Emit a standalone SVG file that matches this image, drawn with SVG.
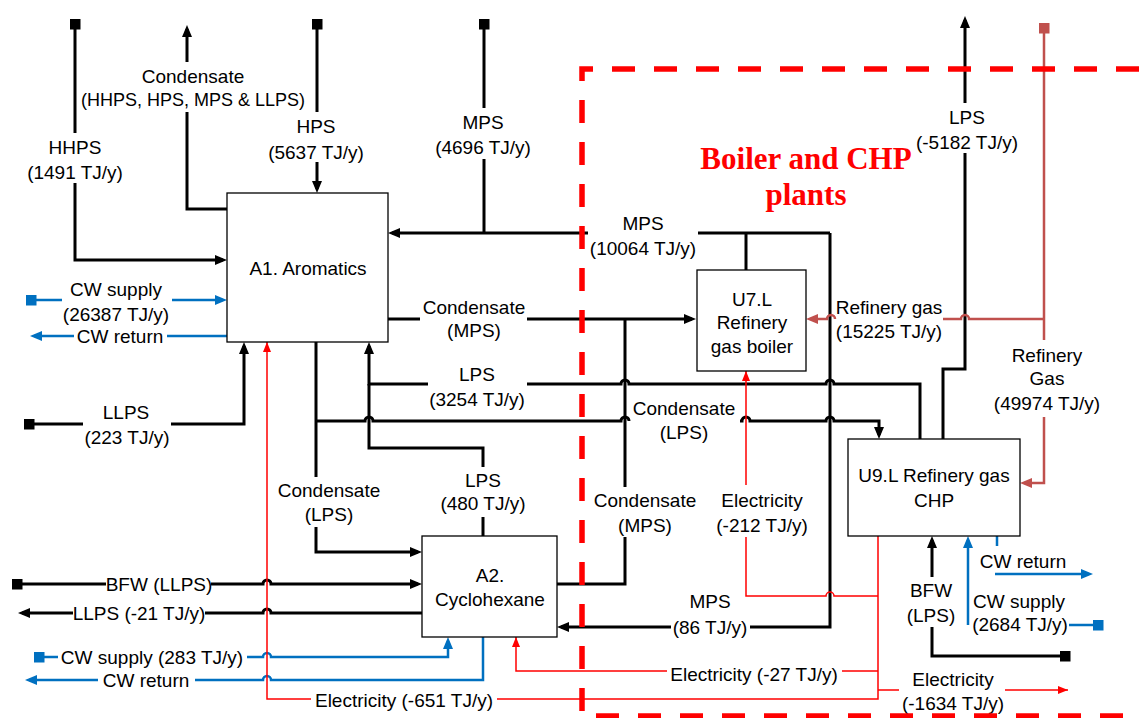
<svg xmlns="http://www.w3.org/2000/svg" width="1139" height="718" viewBox="0 0 1139 718">
<style>
.k{fill:none;stroke:#000;stroke-width:3}
.b{fill:none;stroke:#0070C0;stroke-width:2.5}
.r{fill:none;stroke:#FF0000;stroke-width:1.5}
.g{fill:none;stroke:#C0504D;stroke-width:2.5}
.node rect{fill:#fff;stroke:#000;stroke-width:1.3}
text{font-family:"Liberation Sans",Arial,sans-serif;font-size:19px;fill:#000;text-anchor:middle}
.title{font-family:"Liberation Serif","Times New Roman",serif;font-size:31px;font-weight:bold;fill:#FF0000}
.bound{fill:none;stroke:#FF0000;stroke-width:5.5;stroke-dasharray:23 19}
</style>
<defs>
<marker id="ak" markerUnits="userSpaceOnUse" markerWidth="12" markerHeight="10" refX="8" refY="5" orient="auto"><path d="M0,0 L12,5 L0,10 z" fill="#000"/></marker>
<marker id="ab" markerUnits="userSpaceOnUse" markerWidth="12" markerHeight="10" refX="8" refY="5" orient="auto"><path d="M0,0 L12,5 L0,10 z" fill="#0070C0"/></marker>
<marker id="ag" markerUnits="userSpaceOnUse" markerWidth="12" markerHeight="10" refX="8" refY="5" orient="auto"><path d="M0,0 L12,5 L0,10 z" fill="#C0504D"/></marker>
<marker id="ar" markerUnits="userSpaceOnUse" markerWidth="10" markerHeight="8" refX="10" refY="4" orient="auto"><path d="M0,0 L10,4 L0,8 z" fill="#FF0000"/></marker>
<marker id="sk" markerUnits="userSpaceOnUse" markerWidth="11" markerHeight="11" refX="5.5" refY="5.5" orient="0"><rect width="11" height="11" fill="#000"/></marker>
<marker id="sb" markerUnits="userSpaceOnUse" markerWidth="11" markerHeight="11" refX="5.5" refY="5.5" orient="0"><rect width="11" height="11" fill="#0070C0"/></marker>
<marker id="sg" markerUnits="userSpaceOnUse" markerWidth="11" markerHeight="11" refX="5.5" refY="5.5" orient="0"><rect width="11" height="11" fill="#C0504D"/></marker>
</defs>
<rect width="1139" height="718" fill="#fff"/>

<g id="connectors">
<!-- black steam lines -->
<path class="k" d="M75,24 V133 M75,183 V260 H223" marker-start="url(#sk)" marker-end="url(#ak)"/>
<path class="k" d="M227,209 H187 V112 M187,62 V29" marker-end="url(#ak)"/>
<path class="k" d="M317,24 V112 M317,162 V189" marker-start="url(#sk)" marker-end="url(#ak)"/>
<path class="k" d="M484,24 V108 M484,159 V233" marker-start="url(#sk)"/>
<path class="k" d="M746,270 V233"/>
<path class="k" d="M830,233 H698 M588,233 H392" marker-end="url(#ak)"/>
<path class="k" d="M830,233 V627 H750 M671,627 H561" marker-end="url(#ak)"/>
<path class="k" d="M388,319 H420 M527,319 H692" marker-end="url(#ak)"/>
<path class="k" d="M557,584 H625 V537 M625,487 V319"/>
<path class="k" d="M920,439 V384 H834 a4,4 0 0 0 -8,0 H629 a4,4 0 0 0 -8,0 H527 M428,384 H369 V346" marker-end="url(#ak)"/>
<path class="k" d="M483,536 V517 M483,467 V448 H369 V384"/>
<path class="k" d="M316,342 V477 M316,527 V552 H418" marker-end="url(#ak)"/>
<path class="k" d="M316,421 H365 a4,4 0 0 1 8,0 H621 a4,4 0 0 1 8,0 M740,421 H742 a4,4 0 0 1 8,0 H826 a4,4 0 0 1 8,0 H879 V435" marker-end="url(#ak)"/>
<path class="k" d="M17,584 H106 M211,584 H263 a4,4 0 0 1 8,0 H418" marker-start="url(#sk)" marker-end="url(#ak)"/>
<path class="k" d="M422,613 H271 a4,4 0 0 0 -8,0 H205 M73,613 H22" marker-end="url(#ak)"/>
<path class="k" d="M1065,656 H932 V627 M932,577 V540" marker-start="url(#sk)" marker-end="url(#ak)"/>
<path class="k" d="M943,439 V369 H965 V153 M965,103 V20" marker-end="url(#ak)"/>
<path class="k" d="M29,424 H83 M171,424 H244 V346" marker-start="url(#sk)" marker-end="url(#ak)"/>
<!-- cooling water -->
<path class="b" d="M31,300 H62 M172,300 H223" marker-start="url(#sb)" marker-end="url(#ab)"/>
<path class="b" d="M228,330 V336 H167 M74,336 H34" marker-end="url(#ab)"/>
<path class="b" d="M39,657 H58 M247,657 H263 a4,4 0 0 1 8,0 H448 V641" marker-start="url(#sb)" marker-end="url(#ab)"/>
<path class="b" d="M483,637 V680 H271 a4,4 0 0 0 -8,0 H195 M98,680 H29" marker-end="url(#ab)"/>
<path class="b" d="M1098,625 H1069 M968,625 V540" marker-start="url(#sb)" marker-end="url(#ab)"/>
<path class="b" d="M997,536 V546 M995,574 H1089" marker-end="url(#ab)"/>
<!-- electricity -->
<path class="r" d="M878,536 V699 H497 M311,699 H267 V342" marker-end="url(#ar)"/>
<path class="r" d="M878,596 H834 a4,4 0 0 0 -8,0 H746 V537 M746,485 V371" marker-end="url(#ar)"/>
<path class="r" d="M878,671 H842 M667,671 H516 V637" marker-end="url(#ar)"/>
<path class="r" d="M878,690 H899 M1005,690 H1068" marker-end="url(#ar)"/>
<!-- refinery gas -->
<path class="g" d="M1044,28 V340 M1044,417 V483 H1024" marker-start="url(#sg)" marker-end="url(#ag)"/>
<path class="g" d="M1044,319 H969 a4,4 0 0 0 -8,0 H943 M835,319 a4,4 0 0 0 -8,0 H810" marker-end="url(#ag)"/>

<g id="labels">
<text x="193" y="82.5">Condensate</text>
<text x="193" y="105.5" style="font-size:18px">(HHPS, HPS, MPS &amp; LLPS)</text>
<text x="75" y="153.5">HHPS</text>
<text x="75" y="178.5">(1491 TJ/y)</text>
<text x="316" y="132.5">HPS</text>
<text x="316" y="158.5">(5637 TJ/y)</text>
<text x="483" y="128.5">MPS</text>
<text x="483" y="153.5">(4696 TJ/y)</text>
<text x="967" y="123.5">LPS</text>
<text x="967" y="148.5">(-5182 TJ/y)</text>
<text x="643" y="229.5">MPS</text>
<text x="643" y="254.5">(10064 TJ/y)</text>
<text x="116" y="295.5">CW supply</text>
<text x="116" y="320.5">(26387 TJ/y)</text>
<text x="120" y="342.5">CW return</text>
<text x="474" y="313.5">Condensate</text>
<text x="474" y="336.5">(MPS)</text>
<text x="889" y="313.5">Refinery gas</text>
<text x="889" y="337.5">(15225 TJ/y)</text>
<text x="1047" y="361.5">Refinery</text>
<text x="1047" y="384.5">Gas</text>
<text x="1047" y="409.5">(49974 TJ/y)</text>
<text x="477" y="380.5">LPS</text>
<text x="477" y="405.5">(3254 TJ/y)</text>
<text x="684" y="414.5">Condensate</text>
<text x="684" y="438.5">(LPS)</text>
<text x="126" y="418.5">LLPS</text>
<text x="127" y="443.5">(223 TJ/y)</text>
<text x="483" y="486.5">LPS</text>
<text x="483" y="509.5">(480 TJ/y)</text>
<text x="329" y="496.5">Condensate</text>
<text x="329" y="520.5">(LPS)</text>
<text x="645" y="506.5">Condensate</text>
<text x="645" y="531.5">(MPS)</text>
<text x="762" y="506.5">Electricity</text>
<text x="762" y="531.5">(-212 TJ/y)</text>
<text x="1023" y="567.5">CW return</text>
<text x="159" y="590.5">BFW (LLPS)</text>
<text x="931" y="596.5">BFW</text>
<text x="931" y="621.5">(LPS)</text>
<text x="1019" y="607.5">CW supply</text>
<text x="1020" y="630.5">(2684 TJ/y)</text>
<text x="710" y="607.5">MPS</text>
<text x="710" y="633.5">(86 TJ/y)</text>
<text x="139" y="619.5">LLPS (-21 TJ/y)</text>
<text x="152" y="663.5">CW supply (283 TJ/y)</text>
<text x="754" y="681">Electricity (-27 TJ/y)</text>
<text x="146" y="686.5">CW return</text>
<text x="953" y="685.5">Electricity</text>
<text x="953" y="709.5">(-1634 TJ/y)</text>
<text x="404" y="707">Electricity (-651 TJ/y)</text>
</g>
</g>

<g id="boundary">
<path class="bound" d="M1139,69 H582 V716 H1139"/>
<text class="title" x="806" y="169">Boiler and CHP</text>
<text class="title" x="806" y="205">plants</text>
</g>

<g id="A1" class="node"><rect x="227" y="193" width="161" height="149"/><text x="308" y="274.5">A1. Aromatics</text></g>
<g id="A2" class="node"><rect x="422" y="536" width="135" height="101"/><text x="490" y="581.5">A2.</text><text x="490" y="605.5">Cyclohexane</text></g>
<g id="U7" class="node"><rect x="697" y="270" width="109" height="101"/><text x="752" y="305.5">U7.L</text><text x="752" y="328.5">Refinery</text><text x="752" y="352.5">gas boiler</text></g>
<g id="U9" class="node"><rect x="848" y="439" width="172" height="97"/><text x="934" y="481.5">U9.L Refinery gas</text><text x="934" y="506.5">CHP</text></g>
</svg>
